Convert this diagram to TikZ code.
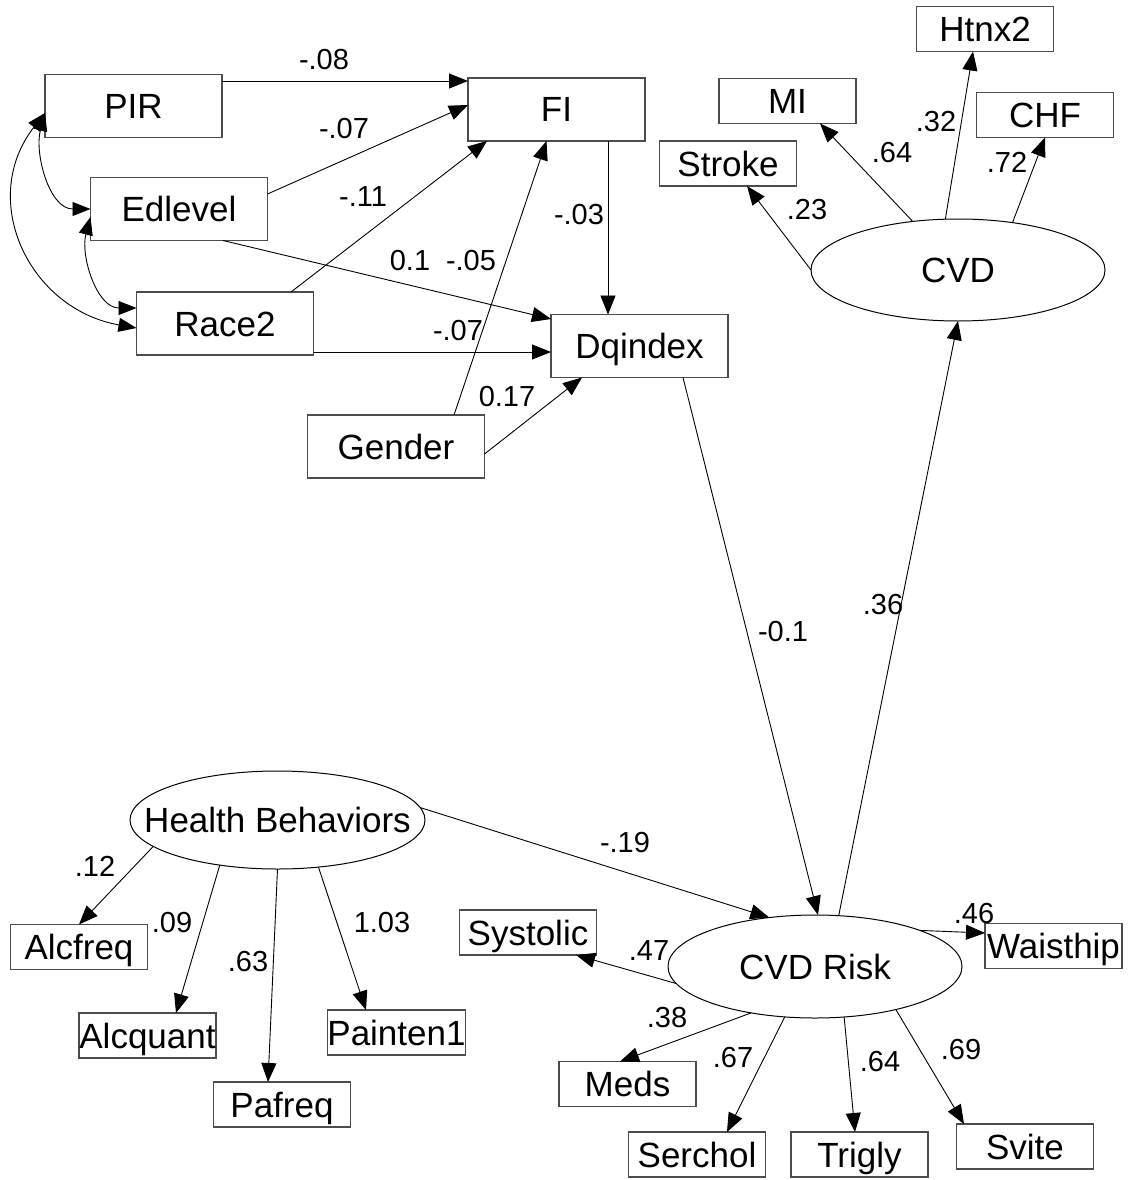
\documentclass[tikz,border=0pt]{standalone}
\usepackage{fontspec}
\setmainfont{Liberation Sans}
\usetikzlibrary{arrows.meta,shapes.geometric}

\begin{document}
\begin{tikzpicture}[x=1pt,y=-1pt,
  font=\fontsize{35}{40}\selectfont,
  obs/.style={rectangle, draw=black!70, line width=1.2pt, minimum width=177pt,
    minimum height=63pt, inner sep=0pt, outer sep=0pt, text height=25pt, text depth=0pt},
  ind/.style={obs, minimum width=137pt, minimum height=45pt},
  lat/.style={ellipse, draw, line width=1pt, inner sep=0pt, outer sep=0pt,
    minimum width=294pt, minimum height=102pt, text height=25pt, text depth=0pt},
  coef/.style={font=\fontsize{29}{34}\selectfont, inner sep=0pt,
    text height=20.8pt, text depth=0pt},
  arr/.style={line width=0.9pt, -{Triangle[length=19pt,width=15pt]}},
  cov/.style={line width=0.9pt,
    {Triangle[length=18pt,width=14pt]}-{Triangle[length=18pt,width=14pt]}},
]
\fill[white] (0,0) rectangle (1128,1180);
\useasboundingbox (0,0) rectangle (1128,1180);

% exogenous and mediating variables
\node[obs] (PIR) at (133.5,106) {PIR};
\node[obs] (FI) at (556.5,109.5) {FI};
\node[obs] (Edlevel) at (179,209) {Edlevel};
\node[obs] (Race2) at (225,323.5) {Race2};
\node[obs] (Dqindex) at (639.5,346) {Dqindex};
\node[obs] (Gender) at (396,446.5) {Gender};

% CVD measurement model
\node[ind] (Htnx2) at (985,29) {Htnx2};
\node[ind] (MI) at (787.5,101) {MI};
\node[ind] (CHF) at (1045,115) {CHF};
\node[ind] (Stroke) at (728,163.5) {Stroke};
\node[lat] (CVD) at (958,270) {\makebox[0pt]{CVD}};

% health behaviors measurement model
\node[lat, minimum width=295pt, minimum height=98pt] (HB) at (277.5,820)
  {\makebox[0pt]{Health Behaviors}};
\node[ind] (Alcfreq) at (79,947) {Alcfreq};
\node[ind] (Alcquant) at (147.5,1035.5) {Alcquant};
\node[ind] (Pafreq) at (282,1104.5) {Pafreq};
\node[ind] (Painten1) at (396.5,1032.5) {Painten1};

% CVD risk measurement model
\node[lat, minimum height=103pt] (CVDR) at (815,966.5) {\makebox[0pt]{CVD Risk}};
\node[ind] (Systolic) at (528,932.5) {Systolic};
\node[ind] (Waisthip) at (1053.5,946) {Waisthip};
\node[ind] (Meds) at (627.5,1084) {Meds};
\node[ind] (Serchol) at (697,1154.5) {Serchol};
\node[ind] (Trigly) at (859.5,1154.5) {Trigly};
\node[ind] (Svite) at (1025,1146.5) {Svite};

% covariances
\draw[cov] ([yshift=-7pt]PIR.west) to[out=255,in=180] (Edlevel.west);
\draw[cov] ([yshift=-7pt]PIR.west) to[out=232,in=170,looseness=1.2] ([yshift=-4.5pt]Race2.west);
\draw[cov] ([yshift=-8pt]Edlevel.west) to[out=255,in=180] ([yshift=15.5pt]Race2.west);

% structural paths
\draw[arr] ([yshift=25pt]PIR.east) -- ([yshift=28.5pt]FI.west);
\draw[arr] ([yshift=15pt]Edlevel.east) -- ([yshift=4.5pt]FI.west);
\draw[arr] ([xshift=66pt]Race2.north) -- ([xshift=19pt]FI.south west);
\draw[arr] ([xshift=58pt]Gender.north) -- ([xshift=-10pt]FI.south);
\draw[arr] ([xshift=51.5pt]FI.south) -- ([xshift=-31.5pt]Dqindex.north);
\draw[arr] ([xshift=44pt]Edlevel.south) -- ([yshift=27pt]Dqindex.west);
\draw[arr] ([yshift=-28.5pt]Race2.east) -- ([yshift=-6pt]Dqindex.west);
\draw[arr] ([yshift=-7.5pt]Gender.east) -- ([xshift=-57.5pt]Dqindex.south);
\draw[arr] ([xshift=43.5pt]Dqindex.south) -- ([xshift=3pt]CVDR.north);
\draw[arr] (CVDR.65) -- (CVD.south);
\draw[arr] (HB.5) -- (CVDR.133);

% loadings
\draw[arr] (CVD.west) -- ([xshift=19pt]Stroke.south);
\draw[arr] (CVD.133) -- ([xshift=32.5pt]MI.south);
\draw[arr] (CVD.104) -- ([xshift=-12pt]Htnx2.south);
\draw[arr] (CVD.41) -- (CHF.south);
\draw[arr] (HB.192) -- (Alcfreq.north);
\draw[arr] (HB.218) -- ([xshift=28.5pt]Alcquant.north);
\draw[arr] (HB.south) -- ([xshift=-14pt]Pafreq.north);
\draw[arr] (HB.311) -- ([xshift=-30.5pt]Painten1.north);
\draw[arr] (CVDR.187) -- ([xshift=48pt]Systolic.south);
\draw[arr] (CVDR.19) -- ([yshift=13pt]Waisthip.west);
\draw[arr] (CVDR.216) -- ([xshift=-7.5pt]Meds.north);
\draw[arr] (CVDR.239) -- ([xshift=30pt]Serchol.north);
\draw[arr] (CVDR.300) -- ([xshift=-4.5pt]Trigly.north);
\draw[arr] (CVDR.332) -- ([xshift=-61pt]Svite.north);

% coefficients
\node[coef] (k1) at (324,59) {-.08};
\node[coef] (k2) at (344,128) {-.07};
\node[coef] (k3) at (363,196) {-.11};
\node[coef] (k4) at (579,214) {-.03};
\node[coef] (k5) at (410,260) {0.1};
\node[coef] (k6) at (471,260) {-.05};
\node[coef] (k7) at (458,330) {-.07};
\node[coef] (k8) at (507,396) {0.17};
\node[coef] (k9) at (783,631) {-0.1};
\node[coef] (k10) at (883,604) {.36};
\node[coef] (k11) at (807,209) {.23};
\node[coef] (k12) at (892,152) {.64};
\node[coef] (k13) at (936,121) {.32};
\node[coef] (k14) at (1007,162) {.72};
\node[coef] (k15) at (95,866) {.12};
\node[coef] (k16) at (172,922) {.09};
\node[coef] (k17) at (248,961) {.63};
\node[coef] (k18) at (382,922) {1.03};
\node[coef] (k19) at (625,842) {-.19};
\node[coef] (k20) at (649,950) {.47};
\node[coef] (k21) at (974,913) {.46};
\node[coef] (k22) at (667,1017) {.38};
\node[coef] (k23) at (733,1057) {.67};
\node[coef] (k24) at (880,1061) {.64};
\node[coef] (k25) at (961,1049) {.69};
\end{tikzpicture}
\end{document}
